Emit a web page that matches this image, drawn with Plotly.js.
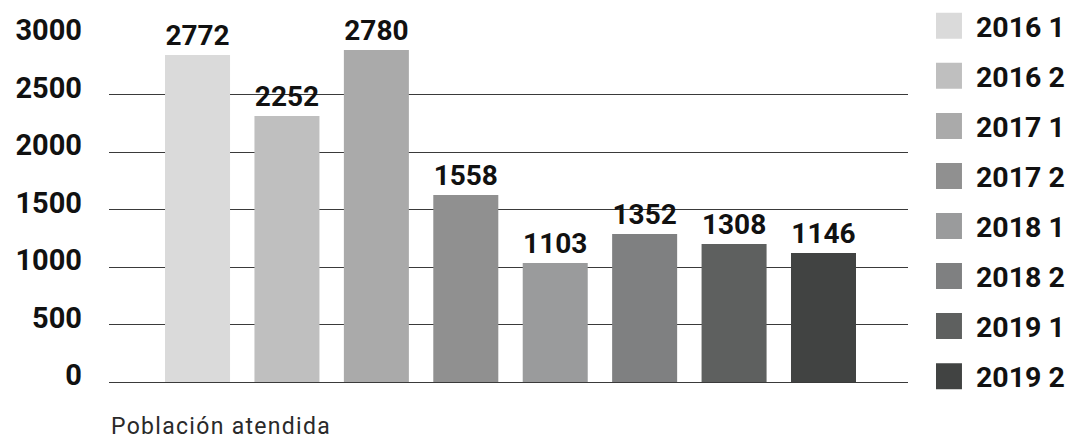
<!DOCTYPE html>
<html>
<head>
<meta charset="utf-8">
<script src="https://cdn.plot.ly/plotly-3.0.1.min.js"></script>
<style>
  html, body { margin: 0; padding: 0; background: #fff; }
  #chart { width: 1066px; height: 439px; }
  .annotation-text { letter-spacing: 1.3px; }
</style>
</head>
<body>
<div id="chart"></div>
<script>
// Series names (legend) and values
const periods = ['2016 1', '2016 2', '2017 1', '2017 2', '2018 1', '2018 2', '2019 1', '2019 2'];
// printed value labels
const valueLabels = ['2772', '2252', '2780', '1558', '1103', '1352', '1308', '1146'];
// bar heights as drawn in the picture
const barHeights = [2843, 2313, 2887, 1626, 1035, 1287, 1200, 1122];
const barColors = ['#dadada', '#bfbfbf', '#aaaaaa', '#909090', '#9a9b9c', '#7f8081', '#5e605f', '#414342'];
const yTicks = [0, 500, 1000, 1500, 2000, 2500, 3000];
const axisTitle = 'Población atendida';

const traces = periods.map((p, i) => ({
  type: 'bar',
  name: p,
  legendgroup: 'g' + i,
  x: [i],
  y: [barHeights[i]],
  width: 0.727,
  text: [valueLabels[i]],
  textposition: 'outside',
  cliponaxis: false,
  textfont: { family: 'Roboto', size: 28, weight: 700, color: '#111' },
  marker: { color: barColors[i], line: { width: 0 } },
  hoverinfo: 'none'
}));

const layout = {
  width: 1066,
  height: 439,
  margin: { l: 109, r: 158, t: 37, b: 57, autoexpand: false },
  paper_bgcolor: '#fff',
  plot_bgcolor: '#fff',
  barmode: 'overlay',
  showlegend: true,
  font: { family: 'Roboto', color: '#111' },
  xaxis: {
    range: [-0.99, 7.945],
    showticklabels: false,
    showgrid: false,
    zeroline: false,
    ticks: '',
    fixedrange: true
  },
  yaxis: {
    range: [0, 3000],
    tickvals: yTicks,
    ticktext: yTicks.map(String),
    showgrid: true,
    gridcolor: '#3a3a3a',
    gridwidth: 1,
    zeroline: true,
    zerolinecolor: '#3a3a3a',
    zerolinewidth: 1,
    ticks: '',
    ticklabelstandoff: 26,
    ticklabelshift: -7,
    tickfont: { family: 'Roboto', size: 29, weight: 700, color: '#111' },
    fixedrange: true
  },
  legend: {
    x: 1.035,
    xanchor: 'left',
    y: 1.105,
    yanchor: 'top',
    maxheight: 460,
    tracegroupgap: 10,
    bgcolor: 'rgba(0,0,0,0)',
    font: { family: 'Roboto', size: 28.5, weight: 700, color: '#111' },
    itemclick: false,
    itemdoubleclick: false
  },
  annotations: [{
    xref: 'paper', yref: 'paper',
    x: 0, y: 0,
    xanchor: 'left', yanchor: 'top',
    yshift: -29,
    showarrow: false,
    text: axisTitle,
    font: { family: 'Roboto', size: 23, weight: 400, color: '#2a2a2a' }
  }]
};

Plotly.newPlot('chart', traces, layout, { displayModeBar: false, staticPlot: true }).then(() => {
  // enlarge the legend swatches to the square size used in the reference
  document.querySelectorAll('.legend .legendpoints path').forEach(p => {
    p.setAttribute('d', 'M6,13H-20V-13H6Z');
  });
});
</script>
</body>
</html>
